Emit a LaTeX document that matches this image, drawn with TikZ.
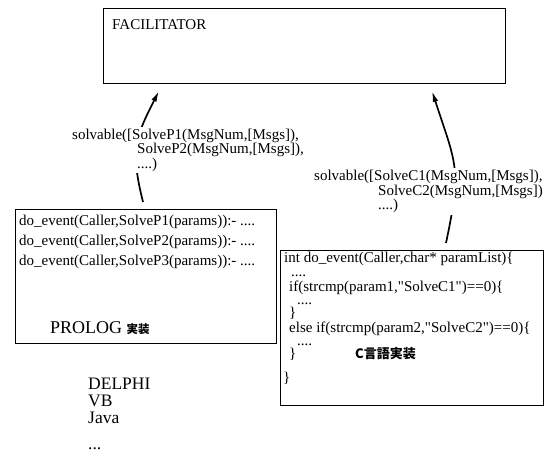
\documentclass[tikz,border=0pt]{standalone}
\usepackage{fontspec}
\setmainfont{Liberation Serif}[Ligatures=TeXOff]
\newfontfamily\jpfont{Noto Sans CJK JP}
\usetikzlibrary{arrows.meta}
\begin{document}
\begin{tikzpicture}[x=1pt,y=1pt,
  box/.style={draw, line width=0.9pt, inner sep=0pt, anchor=north west},
  txt/.style={anchor=base west, inner sep=0pt, font=\fontsize{15}{16}\selectfont},
  big/.style={anchor=base west, inner sep=0pt, font=\fontsize{17.5}{18}\selectfont},
  msg/.style={anchor=north west, fill=white, inner sep=2pt, align=left,
              font=\fontsize{15}{14.5}\selectfont},
  link/.style={line width=1.7pt, -{Latex[length=11pt,width=5.5pt]}}]
\useasboundingbox (0,0) rectangle (555,-454);

% facilitator
\node[box, minimum width=402pt, minimum height=75pt] (fac) at (103,-8) {};
\node[txt] (factitle) at (112,-30) {FACILITATOR};

% Prolog agent
\node[box, minimum width=261pt, minimum height=134pt] (pbox) at (15,-209) {};
\node[txt] (pl1) at (19,-226) {do\_event(Caller,SolveP1(params)):- ....};
\node[txt] (pl2) at (19,-246) {do\_event(Caller,SolveP2(params)):- ....};
\node[txt] (pl3) at (19,-266) {do\_event(Caller,SolveP3(params)):- ....};
\node[anchor=base west, inner sep=0pt, font=\fontsize{18}{20}\selectfont] (plname) at (50,-334)
  {PROLOG {\jpfont\bfseries\fontsize{11.5}{12}\selectfont 実装}};

% other languages
\node[big] (lang1) at (88,-390) {DELPHI};
\node[big] (lang2) at (88,-407) {VB};
\node[big] (lang3) at (88,-424) {Java};
\node[big] (lang4) at (88,-450) {...};

% C agent
\node[box, minimum width=263pt, minimum height=155pt] (cbox) at (280,-250) {};
\node[txt] (c1) at (284,-263) {int do\_event(Caller,char* paramList)\{};
\node[txt] (c2) at (291,-277) {....};
\node[txt] (c3) at (289,-292) {if(strcmp(param1,"SolveC1")==0)\{};
\node[txt] (c4) at (297,-305) {....};
\node[txt] (c5) at (289,-318) {\}};
\node[txt] (c6) at (289,-333) {else if(strcmp(param2,"SolveC2")==0)\{};
\node[txt] (c7) at (297,-346) {....};
\node[txt] (c8) at (289,-359) {\}};
\node[anchor=base west, inner sep=0pt, font=\jpfont\bfseries\fontsize{13}{14}\selectfont] (cname) at (355,-359) {C言語実装};
\node[txt] (c9) at (283,-383) {\}};

% registrations sent to the facilitator
\draw[link] ([xshift=128pt,yshift=7pt]pbox.north west)
  to[out=104,in=243,looseness=1.2] ([xshift=56pt,yshift=-7pt]fac.south west);
\draw[link] ([xshift=166pt,yshift=7pt]cbox.north west)
  to[out=78,in=288,looseness=1.3] ([xshift=329pt,yshift=-7pt]fac.south west);

\node[msg] (pmsg) at (70,-126.7) {solvable([SolveP1(MsgNum,[Msgs]),\\
  \hspace*{65pt}SolveP2(MsgNum,[Msgs]),\\
  \hspace*{65pt}....)};
\node[msg] (cmsg) at (312,-168) {solvable([SolveC1(MsgNum,[Msgs]),\\
  \hspace*{64pt}SolveC2(MsgNum,[Msgs])\\
  \hspace*{64pt}....)};
\end{tikzpicture}
\end{document}
